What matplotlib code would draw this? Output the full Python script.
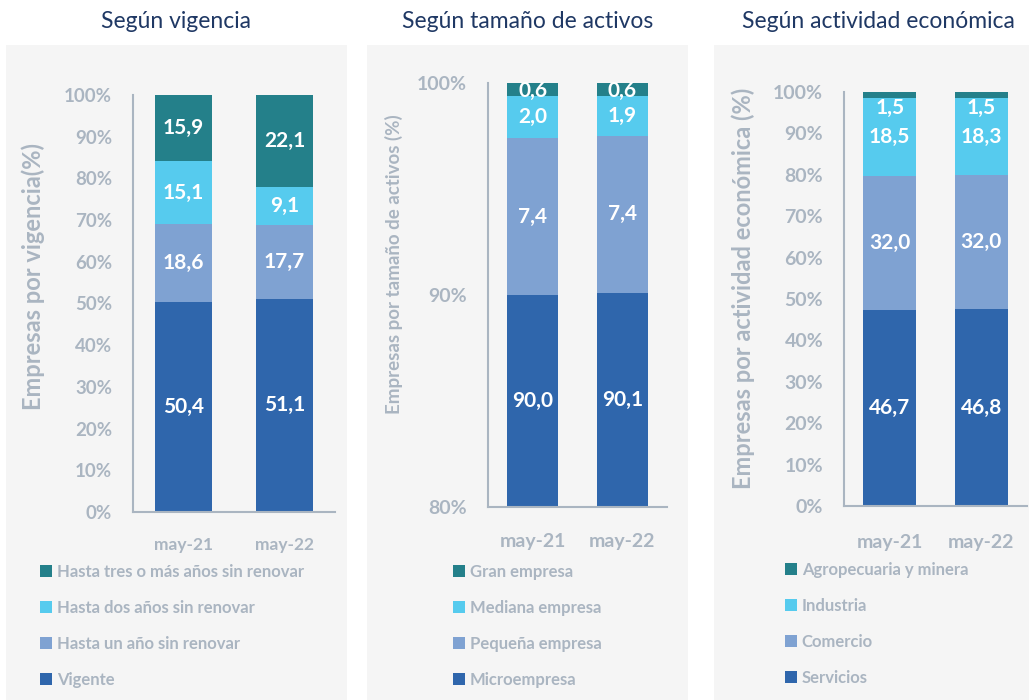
import matplotlib
matplotlib.use("Agg")
import matplotlib.pyplot as plt
import numpy as np

plt.rcParams['font.family'] = ['Lato', 'DejaVu Sans']

# ---------------- data ----------------
periods = ["may-21", "may-22"]

vig_labels = ["Vigente", "Hasta un año sin renovar", "Hasta dos años sin renovar",
              "Hasta tres o más años sin renovar"]
vig_values = [[50.4, 51.1], [18.6, 17.7], [15.1, 9.1], [15.9, 22.1]]

tam_labels = ["Microempresa", "Pequeña empresa", "Mediana empresa", "Gran empresa"]
tam_values = [[90.0, 90.1], [7.4, 7.4], [2.0, 1.9], [0.6, 0.6]]

act_labels = ["Servicios", "Comercio", "Industria", "Agropecuaria y minera"]
act_values = [[46.7, 46.8], [32.0, 32.0], [18.5, 18.3], [1.5, 1.5]]

titles = ["Según vigencia", "Según tamaño de activos", "Según actividad económica"]
ylabels = ["Empresas por vigencia(%)", "Empresas por tamaño de activos (%)",
           "Empresas por actividad económica (%)"]

colors = ["#2f66ac", "#7fa2d2", "#56cbee", "#24808a"]
GRAY = "#aab5c1"
PANEL = "#f5f5f5"
TITLE_C = "#1f3864"

W, H = 1029, 700
fig = plt.figure(figsize=(W / 100, H / 100), dpi=100)
fig.patch.set_facecolor("white")


def rect(x0, y0, x1, y1):
    return [x0 / W, 1 - y1 / H, (x1 - x0) / W, (y1 - y0) / H]


# panel backgrounds
for (x0, x1) in [(6, 347), (367, 688), (714, 1029)]:
    bg = fig.add_axes(rect(x0, 45, x1, 700))
    bg.set_facecolor(PANEL)
    bg.set_xticks([])
    bg.set_yticks([])
    for s in bg.spines.values():
        s.set_visible(False)
    bg.set_zorder(-5)

panels = [
    dict(vals=vig_values, labels=vig_labels, ax=(133, 95, 335, 512), ylim=(0, 100),
         yticks=np.arange(0, 101, 10), width=0.56, xfs=12.5, yfs=13.5, xpad=18,
         title_x=176, ylab=(33, 277), ylab_fs=17, leg=(40, 564), legfs=12),
    dict(vals=tam_values, labels=tam_labels, ax=(488, 83, 667, 507), ylim=(80, 100),
         yticks=[80, 90, 100], width=0.57, xfs=14, yfs=14, xpad=19,
         title_x=528, ylab=(394, 264), ylab_fs=13.5, leg=(453, 564), legfs=12),
    dict(vals=act_values, labels=act_labels, ax=(844, 92, 1027, 506), ylim=(0, 100),
         yticks=np.arange(0, 101, 10), width=0.58, xfs=14, yfs=14, xpad=20,
         title_x=878, ylab=(743, 288), ylab_fs=17, leg=(785, 562), legfs=12),
]

for i, p in enumerate(panels):
    ax = fig.add_axes(rect(*p["ax"]))
    ax.set_zorder(2)
    ax.set_facecolor("none")
    vals = np.array(p["vals"], dtype=float)
    totals = vals.sum(axis=0)
    pct = vals / totals * 100
    x = np.arange(len(periods))
    bottom = np.zeros(len(periods))
    handles = []
    for k in range(vals.shape[0]):
        b = ax.bar(x, pct[k], p["width"], bottom=bottom, color=colors[k],
                   label=p["labels"][k], zorder=2, edgecolor="none")
        handles.append(b)
        for j in range(len(periods)):
            lo = max(bottom[j], p["ylim"][0])
            hi = bottom[j] + pct[k][j]
            yc = (lo + hi) / 2
            dy = 0
            if pct[k][j] < 2.5 and p["ylim"][0] == 0:
                dy = -9
            elif pct[k][j] < 1:
                dy = -1.5
            ax.annotate(f"{vals[k][j]:.1f}".replace(".", ","), (x[j], yc),
                        xytext=(0, dy), textcoords="offset points",
                        ha="center", va="center", color="white",
                        fontsize=15, fontweight="bold", zorder=3)
        bottom = bottom + pct[k]
    ax.set_xlim(-0.5, 1.5)
    ax.set_ylim(*p["ylim"])
    ax.set_yticks(p["yticks"])
    ax.set_yticklabels([f"{int(t)}%" for t in p["yticks"]], fontweight="bold")
    ax.set_xticks(x)
    ax.set_xticklabels(periods, fontweight="bold")
    for s in ["top", "right"]:
        ax.spines[s].set_visible(False)
    for s in ["left", "bottom"]:
        ax.spines[s].set_color(GRAY)
        ax.spines[s].set_linewidth(1.5)
    ax.tick_params(axis="y", length=0, pad=15, labelsize=p["yfs"], labelcolor=GRAY)
    ax.tick_params(axis="x", length=0, pad=p["xpad"], labelsize=p["xfs"], labelcolor=GRAY)

    fig.text(p["title_x"] / W, 1 - 22 / H, titles[i], ha="center", va="center",
             fontsize=16.5, color=TITLE_C)
    yx, yy = p["ylab"]
    fig.text(yx / W, 1 - yy / H, ylabels[i], rotation=90, ha="center",
             va="center", fontsize=p["ylab_fs"], fontweight="bold", color=GRAY)

    lx, ly = p["leg"]
    leg = fig.legend(handles=handles[::-1], loc="upper left",
                     bbox_to_anchor=(lx / W, 1 - ly / H), frameon=False,
                     fontsize=p["legfs"], handlelength=0.7, handleheight=0.7,
                     handletextpad=0.3, labelspacing=1.2, borderaxespad=0,
                     borderpad=0)
    for t in leg.get_texts():
        t.set_color(GRAY)
        t.set_fontweight("bold")

fig.savefig("out.png", dpi=100, facecolor="white")
